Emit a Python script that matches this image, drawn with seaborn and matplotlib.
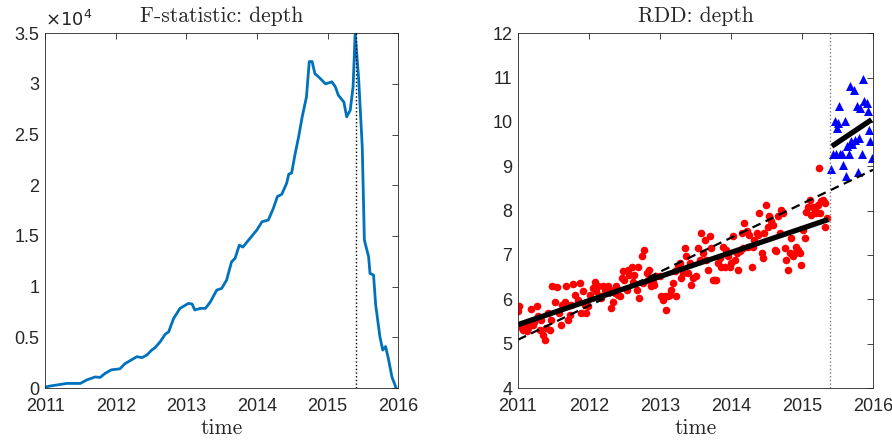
import numpy as np
import pandas as pd
import matplotlib
matplotlib.use("Agg")
import matplotlib.pyplot as plt
import seaborn as sns
from matplotlib.ticker import FuncFormatter, MultipleLocator

# F-statistic over time
f_time = [2011.00, 2011.02, 2011.07, 2011.31, 2011.50, 2011.59, 2011.71, 2011.78, 2011.85, 2011.94,
          2012.06, 2012.13, 2012.30, 2012.37, 2012.44, 2012.51, 2012.56, 2012.63, 2012.70, 2012.75,
          2012.82, 2012.91, 2013.03, 2013.08, 2013.12, 2013.20, 2013.27, 2013.34, 2013.43, 2013.50,
          2013.57, 2013.64, 2013.69, 2013.75, 2013.80, 2013.90, 2014.00, 2014.07, 2014.16, 2014.23,
          2014.29, 2014.35, 2014.42, 2014.45, 2014.49, 2014.54, 2014.59, 2014.64, 2014.70, 2014.74,
          2014.78, 2014.82, 2014.87, 2014.97, 2015.06, 2015.11, 2015.15, 2015.23, 2015.27, 2015.32,
          2015.36, 2015.39, 2015.44, 2015.49, 2015.52, 2015.58, 2015.60, 2015.65, 2015.68, 2015.74,
          2015.78, 2015.82, 2015.86, 2015.91, 2015.97]
f_stat = [0, 130, 200, 460, 460, 800, 1100, 1050, 1450, 1800,
          1900, 2400, 3100, 3000, 3250, 3750, 4000, 4570, 5300, 5550,
          6870, 7860, 8350, 8300, 7700, 7860, 7860, 8500, 9660, 9830,
          10650, 12450, 12800, 14100, 13900, 14760, 15600, 16400, 16570, 17700,
          18900, 19100, 20200, 21100, 21200, 23100, 24800, 26750, 28700, 32200,
          32200, 31000, 30700, 30000, 30200, 29700, 28900, 28200, 26750, 27400,
          29700, 35000, 30400, 23800, 14600, 12950, 11300, 11150, 8200, 5060,
          3750, 4100, 2900, 1100, 0]

# depth observations before the cutoff (red dots)
red_time = [2011.00, 2011.02, 2011.05, 2011.07, 2011.09, 2011.12, 2011.14, 2011.16, 2011.19, 2011.21,
            2011.23, 2011.27, 2011.28, 2011.31, 2011.33, 2011.35, 2011.38, 2011.40, 2011.42, 2011.45,
            2011.47, 2011.48, 2011.52, 2011.55, 2011.58, 2011.60, 2011.62, 2011.66, 2011.68, 2011.70,
            2011.73, 2011.75, 2011.78, 2011.81, 2011.85, 2011.87, 2011.89, 2011.92, 2011.94, 2011.96,
            2011.99, 2012.01, 2012.05, 2012.08, 2012.10, 2012.13, 2012.15, 2012.17, 2012.20, 2012.22,
            2012.24, 2012.27, 2012.29, 2012.31, 2012.34, 2012.36, 2012.38, 2012.41, 2012.43, 2012.46,
            2012.48, 2012.50, 2012.53, 2012.55, 2012.57, 2012.60, 2012.62, 2012.64, 2012.67, 2012.69,
            2012.71, 2012.74, 2012.76, 2012.78, 2012.81, 2012.83, 2012.85, 2012.88, 2012.90, 2012.92,
            2012.95, 2013.00, 2013.02, 2013.04, 2013.07, 2013.08, 2013.11, 2013.14, 2013.16, 2013.18,
            2013.21, 2013.23, 2013.25, 2013.28, 2013.30, 2013.32, 2013.35, 2013.37, 2013.39, 2013.42,
            2013.44, 2013.46, 2013.51, 2013.54, 2013.56, 2013.58, 2013.61, 2013.63, 2013.65, 2013.68,
            2013.70, 2013.72, 2013.75, 2013.77, 2013.79, 2013.82, 2013.84, 2013.86, 2013.89, 2013.91,
            2013.93, 2013.96, 2013.98, 2014.00, 2014.03, 2014.05, 2014.08, 2014.10, 2014.12, 2014.15,
            2014.17, 2014.19, 2014.22, 2014.24, 2014.26, 2014.29, 2014.31, 2014.33, 2014.36, 2014.38,
            2014.40, 2014.43, 2014.45, 2014.47, 2014.50, 2014.52, 2014.54, 2014.57, 2014.59, 2014.62,
            2014.64, 2014.66, 2014.69, 2014.71, 2014.73, 2014.76, 2014.78, 2014.80, 2014.83, 2014.85,
            2014.87, 2014.90, 2014.92, 2014.94, 2014.97, 2014.99, 2015.01, 2015.04, 2015.06, 2015.08,
            2015.11, 2015.13, 2015.15, 2015.18, 2015.20, 2015.23, 2015.24, 2015.26, 2015.27, 2015.30,
            2015.32, 2015.33, 2015.35]
red_depth = [5.73, 5.86, 5.35, 5.31, 5.43, 5.28, 5.35, 5.47, 5.78, 5.43,
             5.50, 5.84, 5.62, 5.31, 5.54, 5.20, 5.09, 5.35, 5.69, 5.31,
             5.54, 6.31, 5.95, 6.28, 5.69, 5.43, 5.88, 5.95, 6.29, 5.54,
             5.65, 5.88, 6.35, 6.10, 5.99, 6.37, 5.69, 6.18, 5.88, 5.69,
             5.84, 6.10, 6.25, 6.38, 6.18, 6.29, 6.07, 6.03, 6.31, 6.22,
             6.14, 6.29, 6.22, 5.80, 5.95, 6.14, 6.29, 6.10, 6.07, 6.48,
             6.63, 6.44, 6.22, 6.67, 6.55, 6.74, 6.40, 6.55, 6.22, 6.74,
             6.03, 6.97, 6.37, 7.12, 6.59, 6.44, 6.67, 6.29, 6.40, 6.33,
             6.52, 6.52, 6.07, 5.99, 6.07, 5.77, 6.07, 6.10, 6.22, 6.37,
             6.63, 6.07, 6.74, 6.82, 6.48, 6.59, 7.16, 6.97, 6.59, 6.82,
             6.33, 6.48, 6.52, 7.16, 6.89, 7.49, 7.04, 7.34, 6.89, 6.67,
             7.42, 7.16, 6.44, 6.44, 6.44, 6.82, 6.93, 6.74, 7.19, 6.74,
             7.12, 6.97, 6.74, 6.82, 7.42, 6.89, 7.04, 6.67, 7.08, 7.49,
             7.16, 7.72, 7.53, 7.19, 7.46, 6.74, 7.19, 7.34, 7.49, 7.46,
             7.94, 7.04, 6.93, 7.49, 8.13, 7.64, 7.87, 7.76, 7.68, 7.12,
             7.08, 7.87, 7.49, 8.02, 7.94, 7.16, 6.89, 6.67, 7.04, 7.38,
             6.97, 7.04, 7.19, 7.12, 7.04, 6.78, 7.57, 7.38, 7.98, 8.09,
             8.25, 7.91, 8.09, 8.02, 7.94, 8.13, 8.96, 7.94, 8.21, 8.25,
             8.17, 7.64, 7.83]

# depth observations after the cutoff (blue triangles)
blue_time = [2015.41, 2015.44, 2015.46, 2015.48, 2015.49, 2015.51, 2015.52, 2015.54, 2015.57, 2015.58,
             2015.60, 2015.62, 2015.63, 2015.66, 2015.67, 2015.69, 2015.70, 2015.73, 2015.74, 2015.77,
             2015.79, 2015.80, 2015.82, 2015.85, 2015.86, 2015.88, 2015.91, 2015.93, 2015.94, 2015.96,
             2015.99]
blue_depth = [8.94, 9.28, 10.01, 9.27, 9.86, 9.97, 10.36, 9.27, 9.28, 9.02,
              10.03, 8.77, 9.45, 9.28, 10.81, 9.56, 9.50, 10.72, 9.60, 10.36,
              8.88, 9.63, 10.31, 9.28, 10.96, 10.46, 10.42, 10.24, 9.82, 9.57,
              9.18]

cutoff = 2015.4
fit_left_time = [2011.0, 2015.37]
fit_left_depth = [5.43, 7.80]
fit_right_time = [2015.42, 2015.98]
fit_right_depth = [9.45, 10.05]
dash_time = [2011.0, 2016.0]
dash_depth = [5.09, 8.92]

sns.set_theme(style="white")
plt.rcParams["font.family"] = ["Liberation Sans", "DejaVu Sans"]
plt.rcParams["axes.edgecolor"] = "#262626"
plt.rcParams["axes.linewidth"] = 0.6
plt.rcParams["xtick.color"] = "#262626"
plt.rcParams["ytick.color"] = "#262626"

serif = "cmr10"
dark = "#262626"

fig = plt.figure(figsize=(8.92, 4.42), dpi=100)
ax1 = fig.add_axes([0.0505, 0.122, 0.396, 0.803])
ax2 = fig.add_axes([0.5807, 0.122, 0.398, 0.803])

# left: F-statistic
fdf = pd.DataFrame({"time": f_time, "F": f_stat})
sns.lineplot(data=fdf, x="time", y="F", ax=ax1, color="#0072BD", linewidth=2.0)
ax1.axvline(cutoff, color="black", linestyle=":", linewidth=1.0)
ax1.set_ylim(0, 35000)
ax1.yaxis.set_major_locator(MultipleLocator(5000))
ax1.yaxis.set_major_formatter(FuncFormatter(lambda v, p: f"{v / 1e4:g}"))
ax1.text(0.0, 1.01, r"$\times10^4$", transform=ax1.transAxes, ha="left", va="bottom",
         fontsize=13, color=dark)
ax1.set_title("F-statistic: depth", fontfamily=serif, fontsize=15.5, pad=8)

# right: RDD
rdf = pd.DataFrame({"time": red_time, "depth": red_depth})
bdf = pd.DataFrame({"time": blue_time, "depth": blue_depth})
sns.scatterplot(data=rdf, x="time", y="depth", ax=ax2, color="red", s=30, linewidth=0)
sns.scatterplot(data=bdf, x="time", y="depth", ax=ax2, color="blue", marker="^", s=42, linewidth=0)
ax2.plot(dash_time, dash_depth, color="black", linestyle=(0, (4, 2.5)), linewidth=1.6)
ax2.plot(fit_left_time, fit_left_depth, color="black", linewidth=3.8, solid_capstyle="butt")
ax2.plot(fit_right_time, fit_right_depth, color="black", linewidth=3.8, solid_capstyle="butt")
ax2.axvline(cutoff, color="#7f7f7f", linestyle=":", linewidth=1.0)
ax2.set_ylim(4, 12)
ax2.yaxis.set_major_locator(MultipleLocator(1))
ax2.set_title("RDD: depth", fontfamily=serif, fontsize=15.5, pad=8)

for ax in (ax1, ax2):
    ax.set_xlim(2011, 2016)
    ax.xaxis.set_major_locator(MultipleLocator(1))
    ax.xaxis.set_major_formatter(FuncFormatter(lambda v, p: f"{v:.0f}"))
    ax.tick_params(direction="in", length=4, width=0.6, top=True, right=True,
                   labelsize=13, labelcolor=dark)
    ax.tick_params(axis="x", pad=7)
    ax.tick_params(axis="y", pad=4)
    ax.set_xlabel("time", fontfamily=serif, fontsize=15.5, labelpad=3)
    ax.set_ylabel("")
    for s in ax.spines.values():
        s.set_visible(True)

fig.savefig("out.png", dpi=100)
